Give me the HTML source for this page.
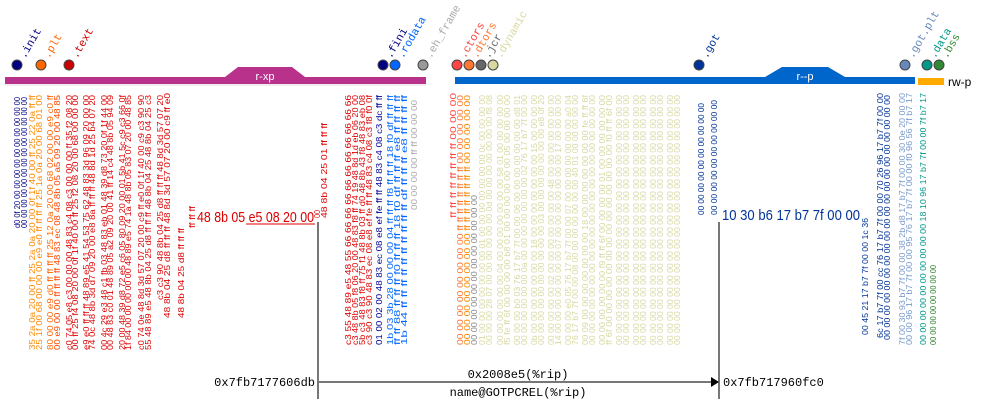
<!DOCTYPE html>
<html><head><meta charset="utf-8"><style>
html,body{margin:0;padding:0;background:#fff;}
svg{display:block;}
.c{font-family:"Liberation Sans",sans-serif;font-size:8px;}
.m{font-family:"Liberation Mono",monospace;font-size:12px;fill:#000;}
.l{font-family:"Liberation Mono",monospace;font-size:11px;}
</style></head><body>
<svg width="981" height="404" viewBox="0 0 981 404" xmlns="http://www.w3.org/2000/svg">
<!-- bars -->
<rect x="5" y="77" width="421" height="7" fill="#b8318a"/>
<path d="M225,77 L238,67 L292,67 L305,77 Z" fill="#b8318a"/>
<text x="265" y="80" fill="#fff" font-family="Liberation Sans,sans-serif" font-size="11" text-anchor="middle">r-xp</text>
<rect x="455" y="77" width="460" height="7" fill="#0066cc"/>
<path d="M765,77 L782,67 L828,67 L845,77 Z" fill="#0066cc"/>
<text x="805" y="80" fill="#fff" font-family="Liberation Sans,sans-serif" font-size="11" text-anchor="middle">r--p</text>
<rect x="918" y="78" width="26" height="7" fill="#ffaa00"/>
<text x="948" y="86" fill="#000" font-family="Liberation Sans,sans-serif" font-size="12">rw-p</text>
<line x1="5" y1="85" x2="426" y2="85" stroke="#ddd"/>
<!-- dots -->
<g stroke="#444" stroke-width="1">
<circle cx="17" cy="65" r="5" fill="#000080"/>
<circle cx="41" cy="65" r="5" fill="#ff6600"/>
<circle cx="69" cy="65" r="5" fill="#cc0000"/>
<circle cx="383" cy="65" r="5" fill="#000080"/>
<circle cx="395" cy="65" r="5" fill="#0066ff"/>
<circle cx="423" cy="65" r="5" fill="#999"/>
<circle cx="457" cy="65" r="5" fill="#ff4444"/>
<circle cx="469" cy="65" r="5" fill="#ff7733"/>
<circle cx="481" cy="65" r="5" fill="#666"/>
<circle cx="493" cy="65" r="5" fill="#d8d8a0"/>
<circle cx="699" cy="65" r="5" fill="#003399"/>
<circle cx="905" cy="65" r="5" fill="#6688bb"/>
<circle cx="927" cy="65" r="5" fill="#009988"/>
<circle cx="939" cy="65" r="5" fill="#338833"/>
</g>
<g class="l">
<text transform="translate(25,59) rotate(-60)" fill="#000080">.init</text>
<text transform="translate(49,59) rotate(-60)" fill="#ff6600">.plt</text>
<text transform="translate(77,59) rotate(-60)" fill="#cc0000">.text</text>
<text transform="translate(391,59) rotate(-60)" fill="#000080">.fini</text>
<text transform="translate(403,59) rotate(-60)" fill="#0066ff">.rodata</text>
<text transform="translate(431,59) rotate(-60)" fill="#aaa">.eh_frame</text>
<text transform="translate(465,59) rotate(-60)" fill="#ff4444">.ctors</text>
<text transform="translate(477,59) rotate(-60)" fill="#ff7733">.dtors</text>
<text transform="translate(489,59) rotate(-60)" fill="#666">.jcr</text>
<text transform="translate(501,59) rotate(-60)" fill="#d8d8a0">.dynamic</text>
<text transform="translate(707,59) rotate(-60)" fill="#003399">.got</text>
<text transform="translate(913,59) rotate(-60)" fill="#6688bb">.got.plt</text>
<text transform="translate(935,59) rotate(-60)" fill="#009988">.data</text>
<text transform="translate(947,59) rotate(-60)" fill="#338833">.bss</text>
</g>
<!-- hex columns: translate(x,bottom) rotate(-90), textLength = bottom-top -->
<g class="c">
<text transform="translate(20,228) rotate(-90)" fill="#000080" textLength="131" lengthAdjust="spacingAndGlyphs">d0 0f 20 00 00 00 00 00 00 00 00 00 00</text>
<text transform="translate(27,228) rotate(-90)" fill="#000080" textLength="131" lengthAdjust="spacingAndGlyphs">00 00 00 00 00 00 00 00 00 00 00 00 00</text>
<text transform="translate(35,350) rotate(-90)" fill="#ff8800" textLength="255" lengthAdjust="spacingAndGlyphs">35 2a 0a 20 00 ff 25 2a 0a 20 00 0f 1f 40 00 ff 25 22 0a ff ff</text>
<text transform="translate(42,350) rotate(-90)" fill="#ff8800" textLength="255" lengthAdjust="spacingAndGlyphs">25 1f 00 68 00 00 00 e9 e0 ff ff ff ff 25 1a 0a 20 00 68 01 00</text>
<text transform="translate(53,350) rotate(-90)" fill="#ff6600" textLength="255" lengthAdjust="spacingAndGlyphs">80 00 00 e9 d0 ff ff ff ff 25 12 0a 20 00 68 02 00 00 e9 c0 ff</text>
<text transform="translate(60,350) rotate(-90)" fill="#ff4400" textLength="255" lengthAdjust="spacingAndGlyphs">00 e9 00 00 ff ff ff ff 48 83 ec 08 48 8b 05 a5 09 20 00 48 85</text>
<text transform="translate(72,350) rotate(-90)" fill="#dd0000" textLength="255" lengthAdjust="spacingAndGlyphs">c0 74 05 e8 c3 00 00 00 48 83 c4 08 c3 00 00 00 ff 35 f2 08 20</text>
<text transform="translate(78,350) rotate(-90)" fill="#dd0000" textLength="255" lengthAdjust="spacingAndGlyphs">00 ff 25 f4 08 20 00 0f 1f 40 00 ff 25 f2 08 20 00 68 00 00 00</text>
<text transform="translate(89,350) rotate(-90)" fill="#dd0000" textLength="255" lengthAdjust="spacingAndGlyphs">e9 e0 ff ff ff 48 89 e5 41 54 53 75 62 48 83 3d 96 09 20 00 00</text>
<text transform="translate(95,350) rotate(-90)" fill="#dd0000" textLength="255" lengthAdjust="spacingAndGlyphs">74 0c 48 8b 3d d7 09 20 00 e8 8a ff ff ff 48 8d 1d 25 b4 07 20</text>
<text transform="translate(107,350) rotate(-90)" fill="#dd0000" textLength="255" lengthAdjust="spacingAndGlyphs">00 4c 29 e3 48 c1 fb 03 48 83 eb 01 48 39 d8 73 20 0f 1f 44 00</text>
<text transform="translate(113,350) rotate(-90)" fill="#dd0000" textLength="255" lengthAdjust="spacingAndGlyphs">00 48 83 c0 01 48 89 05 a2 09 20 00 41 ff 14 c4 48 8b 05 94 09</text>
<text transform="translate(125,350) rotate(-90)" fill="#dd0000" textLength="255" lengthAdjust="spacingAndGlyphs">20 00 48 39 d8 72 e5 c6 05 80 09 20 00 01 5b 41 5c c9 c3 66 0f</text>
<text transform="translate(131,350) rotate(-90)" fill="#dd0000" textLength="255" lengthAdjust="spacingAndGlyphs">1f 84 00 00 00 00 00 48 89 e5 74 1a 48 8b 05 83 07 20 00 48 85</text>
<text transform="translate(144,350) rotate(-90)" fill="#dd0000" textLength="255" lengthAdjust="spacingAndGlyphs">c0 74 0e 48 8d 3d 57 07 20 00 c9 ff e0 0f 1f 40 00 c9 c3 90 90</text>
<text transform="translate(151,350) rotate(-90)" fill="#dd0000" textLength="255" lengthAdjust="spacingAndGlyphs">55 48 89 e5 48 8b 04 25 d8 ff ff ff 48 8b 04 25 48 8b 04 25 c3</text>
<text transform="translate(163,300) rotate(-90)" fill="#dd0000" textLength="205" lengthAdjust="spacingAndGlyphs">c3 c3 90 48 8b 04 25 d8 ff ff ff 48 8d 3d 57 07 20</text>
<text transform="translate(170,318) rotate(-90)" fill="#dd0000" textLength="225" lengthAdjust="spacingAndGlyphs">48 8b 04 25 d8 ff ff ff 48 8d 3d 57 07 20 00 c9 ff e0</text>
<text transform="translate(184,318) rotate(-90)" fill="#dd0000" textLength="90" lengthAdjust="spacingAndGlyphs">48 8b 04 25 d8 ff ff ff</text>
<text transform="translate(195,228) rotate(-90)" fill="#dd0000" textLength="22" lengthAdjust="spacingAndGlyphs">ff ff ff</text>

<text transform="translate(320,218) rotate(-90)" fill="#dd0000" textLength="8" lengthAdjust="spacingAndGlyphs">00</text>
<text transform="translate(327,218) rotate(-90)" fill="#dd0000" textLength="95" lengthAdjust="spacingAndGlyphs">48 8b 04 25 01 ff ff ff</text>
<text transform="translate(351,345) rotate(-90)" fill="#dd0000" textLength="250" lengthAdjust="spacingAndGlyphs">c3 55 48 89 e5 48 55 66 66 66 66 66 66 66 66 66 66 66</text>
<text transform="translate(358,345) rotate(-90)" fill="#dd0000" textLength="250" lengthAdjust="spacingAndGlyphs">c3 48 8b 05 f8 06 20 00 48 83 f8 ff 74 19 48 8d 1d eb 06 20 00</text>
<text transform="translate(365,345) rotate(-90)" fill="#dd0000" textLength="250" lengthAdjust="spacingAndGlyphs">5b c3 48 83 f8 ff 75 f1 48 8b 03 ff d0 48 8b 43 f8 48 83 eb 08</text>
<text transform="translate(372,345) rotate(-90)" fill="#dd0000" textLength="250" lengthAdjust="spacingAndGlyphs">c3 90 c3 90 48 83 ec 08 e8 ef fe ff ff 48 83 c4 08 c3 f8 f0 0f</text>
<text transform="translate(382,345) rotate(-90)" fill="#000099" textLength="250" lengthAdjust="spacingAndGlyphs">01 00 02 00 48 83 ec 08 e8 ef fe ff ff 48 83 c4 08 c3 dc ff ff</text>
<text transform="translate(393,345) rotate(-90)" fill="#0066ff" textLength="250" lengthAdjust="spacingAndGlyphs">1b 03 3b 28 00 00 00 04 ff ff ff f8 ff ff ff 18 f0 df ff ff ff</text>
<text transform="translate(400,345) rotate(-90)" fill="#0066ff" textLength="250" lengthAdjust="spacingAndGlyphs">ff ff 88 ff ff ff f0 ff ff ff 18 f0 df ff ff ff e8 ff ff ff ff</text>
<text transform="translate(407,345) rotate(-90)" fill="#0066ff" textLength="250" lengthAdjust="spacingAndGlyphs">1b 44 ff ff ff ff ff ff ff ff ff ff df ff ff ff e8 ff ff ff ff</text>
<text transform="translate(417,210) rotate(-90)" fill="#aaa" textLength="110" lengthAdjust="spacingAndGlyphs">00 00 00 00 ff ff 00 00 00</text>

<text transform="translate(456,218) rotate(-90)" fill="#ff4444" textLength="125" lengthAdjust="spacingAndGlyphs">ff ff ff ff ff ff ff ff 00 00 00</text>
<text transform="translate(463,345) rotate(-90)" fill="#ff7733" textLength="250" lengthAdjust="spacingAndGlyphs">00 00 00 00 00 00 00 00 ff ff ff ff ff ff ff ff 00 00 00 00 00</text>
<text transform="translate(470,345) rotate(-90)" fill="#ff8800" textLength="250" lengthAdjust="spacingAndGlyphs">00 00 00 00 00 00 00 00 ff ff ff ff ff ff ff ff 00 00 00 00 00</text>
<text transform="translate(477,345) rotate(-90)" fill="#888" textLength="150" lengthAdjust="spacingAndGlyphs">00 00 00 00 00 00 00 00 00 00 00 00</text>
</g>
<g class="c" fill="#d8d8a0">
<text transform="translate(485,345) rotate(-90)" textLength="250" lengthAdjust="spacingAndGlyphs">01 00 00 00 00 00 00 00 01 00 00 00 00 00 00 00 0c 00 00 00 00</text>
<text transform="translate(492,345) rotate(-90)" textLength="250" lengthAdjust="spacingAndGlyphs">00 00 00 28 07 00 00 00 00 00 00 0d 00 00 00 00 00 00 00 f8 08</text>
<text transform="translate(503,345) rotate(-90)" textLength="250" lengthAdjust="spacingAndGlyphs">00 00 00 00 00 00 04 00 00 00 00 00 00 00 58 01 00 00 00 00 00</text>
<text transform="translate(510,345) rotate(-90)" textLength="250" lengthAdjust="spacingAndGlyphs">f5 fe ff 6f 00 00 00 00 b8 01 00 00 00 00 00 00 05 00 00 00 00</text>
<text transform="translate(520,345) rotate(-90)" textLength="250" lengthAdjust="spacingAndGlyphs">00 00 00 b0 03 76 17 b7 7f 00 00 06 00 00 00 00 00 00 00 d8 01</text>
<text transform="translate(527,345) rotate(-90)" textLength="250" lengthAdjust="spacingAndGlyphs">00 00 00 00 00 00 0a 00 00 00 00 00 00 00 02 76 17 b7 7f 00 00</text>
<text transform="translate(537,345) rotate(-90)" textLength="250" lengthAdjust="spacingAndGlyphs">0b 00 00 00 00 00 00 00 18 00 00 00 00 00 00 00 15 00 00 00 00</text>
<text transform="translate(544,345) rotate(-90)" textLength="250" lengthAdjust="spacingAndGlyphs">00 00 00 00 00 00 00 00 00 00 03 00 00 00 00 00 00 00 e8 0f 20</text>
<text transform="translate(554,345) rotate(-90)" textLength="250" lengthAdjust="spacingAndGlyphs">00 00 00 00 00 02 00 00 00 00 00 00 00 48 00 00 00 00 00 00 00</text>
<text transform="translate(561,345) rotate(-90)" textLength="250" lengthAdjust="spacingAndGlyphs">14 00 00 00 00 00 00 00 07 00 00 00 00 00 00 00 17 00 00 00 00</text>
<text transform="translate(571,345) rotate(-90)" textLength="250" lengthAdjust="spacingAndGlyphs">00 00 00 e0 05 76 17 b7 7f 00 00 07 00 00 00 00 00 00 00 a0 04</text>
<text transform="translate(578,345) rotate(-90)" textLength="250" lengthAdjust="spacingAndGlyphs">76 17 b7 7f 00 00 08 00 00 00 00 00 00 00 40 01 00 00 00 00 00</text>
<text transform="translate(588,345) rotate(-90)" textLength="250" lengthAdjust="spacingAndGlyphs">00 09 00 00 00 00 00 00 00 18 00 00 00 00 00 00 00 fe ff ff 6f</text>
<text transform="translate(595,345) rotate(-90)" textLength="250" lengthAdjust="spacingAndGlyphs">00 00 00 00 00 00 00 00 00 00 00 00 00 00 00 00 00 00 00 00 00</text>
<text transform="translate(605,345) rotate(-90)" textLength="250" lengthAdjust="spacingAndGlyphs">00 00 00 00 00 00 f9 ff ff 6f 00 00 00 00 01 00 00 00 00 00 00</text>
<text transform="translate(612,345) rotate(-90)" textLength="250" lengthAdjust="spacingAndGlyphs">ff 6f 00 00 00 00 00 00 00 00 00 00 00 00 00 00 f0 ff ff 6f 00</text>
<text transform="translate(622,345) rotate(-90)" textLength="250" lengthAdjust="spacingAndGlyphs">00 00 00 00 00 00 00 00 00 00 00 00 00 00 00 00 00 00 00 00 00</text>
<text transform="translate(629,345) rotate(-90)" textLength="250" lengthAdjust="spacingAndGlyphs">00 00 00 00 00 00 00 00 00 00 00 00 00 00 00 00 00 00 00 00 00</text>
<text transform="translate(639,345) rotate(-90)" textLength="250" lengthAdjust="spacingAndGlyphs">00 00 00 00 00 00 00 00 00 00 00 00 00 00 00 00 00 00 00 00 00</text>
<text transform="translate(646,345) rotate(-90)" textLength="250" lengthAdjust="spacingAndGlyphs">00 00 00 00 00 00 00 00 00 00 00 00 00 00 00 00 00 00 00 00 00</text>
<text transform="translate(656,345) rotate(-90)" textLength="250" lengthAdjust="spacingAndGlyphs">00 00 00 00 00 00 00 00 00 00 00 00 00 00 00 00 00 00 00 00 00</text>
<text transform="translate(663,345) rotate(-90)" textLength="250" lengthAdjust="spacingAndGlyphs">00 00 00 00 00 00 00 00 00 00 00 00 00 00 00 00 00 00 00 00 00</text>
<text transform="translate(673,345) rotate(-90)" textLength="250" lengthAdjust="spacingAndGlyphs">00 00 00 00 00 00 00 00 00 00 00 00 00 00 00 00 00 00 00 00 00</text>
<text transform="translate(680,345) rotate(-90)" textLength="250" lengthAdjust="spacingAndGlyphs">00 00 00 00 00 00 00 00 00 00 00 00 00 00 00 00 00 00 00 00 00</text>
</g>
<g class="c">
<text transform="translate(704,215) rotate(-90)" fill="#003399" textLength="112" lengthAdjust="spacingAndGlyphs">00 00 00 00 00 00 00 00 00 00</text>
<text transform="translate(717,215) rotate(-90)" fill="#003399" textLength="115" lengthAdjust="spacingAndGlyphs">00 00 00 00 00 00 00 00 00 00</text>
<text transform="translate(868,335) rotate(-90)" fill="#003399" textLength="117" lengthAdjust="spacingAndGlyphs">00 45 21 17 b7 7f 00 00 1c 36</text>
<text transform="translate(883,338) rotate(-90)" fill="#003399" textLength="245" lengthAdjust="spacingAndGlyphs">6c 17 b7 7f 00 cc 76 17 b7 7f 00 00 70 26 96 17 b7 7f 00 00</text>
<text transform="translate(890,340) rotate(-90)" fill="#003399" textLength="245" lengthAdjust="spacingAndGlyphs">00 00 00 00 00 00 00 00 00 00 00 00 00 00 00 00 00 00 00 00</text>
<text transform="translate(905,345) rotate(-90)" fill="#7799cc" textLength="252" lengthAdjust="spacingAndGlyphs">7f 00 30 93 b7 7f 00 00 38 2b d8 17 b7 7f 00 00 30 0e 20 00 00</text>
<text transform="translate(912,345) rotate(-90)" fill="#7799cc" textLength="252" lengthAdjust="spacingAndGlyphs">00 00 96 17 b7 7f 00 00 95 76 17 b7 7f 00 00 f0 96 56 7f b7 17</text>
<text transform="translate(926,345) rotate(-90)" fill="#009988" textLength="252" lengthAdjust="spacingAndGlyphs">00 00 00 00 00 00 00 00 00 00 18 10 96 17 b7 7f 00 00 7f b7 17</text>
<text transform="translate(936,345) rotate(-90)" fill="#338833" textLength="80" lengthAdjust="spacingAndGlyphs">00 00 00 00 00 00 00 00</text>
</g>
<!-- instruction bytes -->
<text x="197" y="222" fill="#dd0000" font-family="Liberation Sans,sans-serif" font-size="15" textLength="117" lengthAdjust="spacingAndGlyphs">48 8b 05 e5 08 20 00</text>
<line x1="246" y1="224" x2="315" y2="224" stroke="#dd0000" stroke-width="1"/>
<text x="722" y="220" fill="#003399" font-family="Liberation Sans,sans-serif" font-size="15" textLength="138" lengthAdjust="spacingAndGlyphs">10 30 b6 17 b7 7f 00 00</text>
<!-- arrow -->
<g stroke="#777" stroke-width="2">
<line x1="318" y1="222" x2="318" y2="399"/>
<line x1="719" y1="222" x2="719" y2="399"/>
<line x1="318" y1="382" x2="711" y2="382"/>
</g>
<path d="M711,377 L719,382 L711,387 Z" fill="#000"/>
<text class="m" x="315" y="386" text-anchor="end">0x7fb7177606db</text>
<text class="m" x="518" y="378" text-anchor="middle">0x2008e5(%rip)</text>
<text class="m" x="518" y="396" text-anchor="middle">name@GOTPCREL(%rip)</text>
<text class="m" x="723" y="386">0x7fb717960fc0</text>
</svg>
</body></html>
